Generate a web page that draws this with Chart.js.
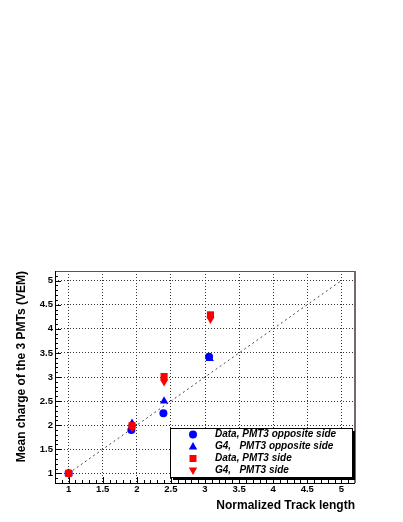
<!DOCTYPE html>
<html>
<head>
<meta charset="utf-8">
<script src="https://cdn.jsdelivr.net/npm/chart.js@4.4.0/dist/chart.umd.min.js"></script>
<style>
  html, body { margin: 0; padding: 0; background: #fff; }
  #wrap { width: 403px; height: 522px; }
</style>
</head>
<body>
<div id="wrap"><canvas id="chart"></canvas></div>
<script>
// values
const dataOppX = [1, 1.92, 2.39, 3.06];
const dataOppY = [1, 1.9, 2.25, 3.42];
const g4OppX = [1, 1.93, 2.4, 3.07];
const g4OppY = [1, 2.04, 2.5, 3.38];
const dataSideX = [1, 1.93, 2.4, 3.08];
const dataSideY = [1, 1.99, 3.01, 4.29];
const g4SideX = [1, 1.93, 2.4, 3.08];
const g4SideY = [1, 1.95, 2.9, 4.2];
const diagX = [1, 5];
const diagY = [1, 5];

const xTicks = [1, 1.5, 2, 2.5, 3, 3.5, 4, 4.5, 5];
const yTicks = [1, 1.5, 2, 2.5, 3, 3.5, 4, 4.5, 5];
const labels = ['Data, PMT3 opposite side', 'G4,   PMT3 opposite side', 'Data, PMT3 side', 'G4,   PMT3 side'];

const pts = (xs, ys) => xs.map((x, i) => ({ x: x, y: ys[i] }));

const BLUE = '#0000ff';
const RED = '#ff0000';

function marker(ctx, style, x, y, color) {
    ctx.save();
    ctx.fillStyle = color;
    ctx.beginPath();
    if (style === 'circle') {
        ctx.arc(x, y, 4, 0, Math.PI * 2);
    } else if (style === 'rect') {
        ctx.rect(x - 3.5, y - 3.5, 7, 7);
    } else if (style === 'up') {
        ctx.moveTo(x, y - 4.5); ctx.lineTo(x + 4.2, y + 3); ctx.lineTo(x - 4.2, y + 3);
    } else {
        ctx.moveTo(x, y + 4.5); ctx.lineTo(x + 4.2, y - 3); ctx.lineTo(x - 4.2, y - 3);
    }
    ctx.closePath();
    ctx.fill();
    ctx.restore();
}

const rootFrame = {
    id: 'rootFrame',
    afterDraw(chart) {
        const { ctx, chartArea: a, scales } = chart;
        const xs = scales.x, ys = scales.y;
        ctx.save();
        ctx.strokeStyle = '#000';
        ctx.lineWidth = 1;
        // minor and major ticks, pointing inward
        ctx.beginPath();
        for (let i = 8; i <= 52; i++) {
            const v = i / 10;
            const major = i % 5 === 0;
            const len = major ? 6 : 3;
            const px = Math.round(xs.getPixelForValue(v)) + 0.5;
            ctx.moveTo(px, a.bottom); ctx.lineTo(px, a.bottom - len);
            const py = Math.round(ys.getPixelForValue(v)) + 0.5;
            ctx.moveTo(a.left, py); ctx.lineTo(a.left + len, py);
        }
        ctx.stroke();
        // frame
        ctx.strokeStyle = '#555';
        ctx.beginPath();
        ctx.moveTo(a.left, a.top + 0.5); ctx.lineTo(a.right, a.top + 0.5);
        ctx.stroke();
        ctx.strokeStyle = '#7a6868';
        ctx.lineWidth = 2;
        ctx.beginPath();
        ctx.moveTo(a.right, a.top); ctx.lineTo(a.right, a.bottom);
        ctx.stroke();
        ctx.strokeStyle = '#000';
        ctx.lineWidth = 1;
        ctx.beginPath();
        ctx.moveTo(a.left + 0.5, a.top); ctx.lineTo(a.left + 0.5, a.bottom + 0.5);
        ctx.lineTo(a.right, a.bottom + 0.5);
        ctx.stroke();

        // axis titles
        ctx.fillStyle = '#000';
        ctx.font = 'bold 12px "Liberation Sans", Arial, sans-serif';
        ctx.textAlign = 'right';
        ctx.textBaseline = 'alphabetic';
        ctx.fillText('Normalized Track length', a.right, 509);
        ctx.save();
        ctx.translate(22, a.top);
        ctx.rotate(-Math.PI / 2);
        ctx.textBaseline = 'middle';
        ctx.fillText('Mean charge of the 3 PMTs (VEM)', 0, 0);
        ctx.restore();

        // legend box with shadow
        const lx = 170, ly = 428, lw = 182, lh = 49;
        ctx.fillStyle = '#000';
        ctx.fillRect(lx + 3, ly + 3, lw, lh);
        ctx.fillStyle = '#fff';
        ctx.fillRect(lx, ly, lw, lh);
        ctx.strokeRect(lx + 0.5, ly + 0.5, lw, lh);
        const styles = ['circle', 'up', 'rect', 'down'];
        const colors = [BLUE, BLUE, RED, RED];
        ctx.font = 'italic bold 10px "Liberation Sans", Arial, sans-serif';
        ctx.textAlign = 'left';
        ctx.textBaseline = 'middle';
        labels.forEach((t, i) => {
            const y = ly + 6.5 + i * 12;
            marker(ctx, styles[i], lx + 23, y, colors[i]);
            ctx.fillStyle = '#000';
            ctx.fillText(t, lx + 45, y);
        });
        ctx.restore();
    }
};

const tickFont = { family: '"Liberation Sans", Arial, sans-serif', size: 9.5, weight: 'bold' };

new Chart(document.getElementById('chart'), {
    type: 'scatter',
    data: {
        datasets: [
            {
                type: 'line', data: pts(diagX, diagY), borderColor: '#444', borderWidth: 1,
                borderDash: [2, 3], pointRadius: 0, fill: false, order: 10
            },
            { label: labels[0], data: pts(dataOppX, dataOppY), pointStyle: 'circle', pointRadius: 4, backgroundColor: BLUE, borderWidth: 0, order: 4 },
            { label: labels[1], data: pts(g4OppX, g4OppY), pointStyle: 'triangle', pointRadius: 4.8, backgroundColor: BLUE, borderWidth: 0, order: 3 },
            { label: labels[3], data: pts(g4SideX, g4SideY), pointStyle: 'triangle', rotation: 180, pointRadius: 4.8, backgroundColor: RED, borderWidth: 0, order: 2 },
            { label: labels[2], data: pts(dataSideX, dataSideY), pointStyle: 'rect', pointRadius: 5, backgroundColor: RED, borderWidth: 0, order: 1 }
        ]
    },
    options: {
        responsive: true,
        maintainAspectRatio: false,
        animation: false,
        layout: { padding: { top: 271, right: 48, left: 0, bottom: 0 } },
        plugins: { legend: { display: false }, tooltip: { enabled: false } },
        scales: {
            x: {
                type: 'linear', min: 0.8, max: 5.2,
                afterBuildTicks: (s) => { s.ticks = xTicks.map(v => ({ value: v })); },
                afterFit: (s) => { s.height = 39; },
                grid: { color: '#333', drawTicks: false },
                border: { display: false, dash: [1, 2] },
                ticks: { color: '#000', font: tickFont, padding: 1, maxRotation: 0, autoSkip: false, callback: v => String(v) }
            },
            y: {
                type: 'linear', min: 0.8, max: 5.2,
                afterBuildTicks: (s) => { s.ticks = yTicks.map(v => ({ value: v })); },
                afterFit: (s) => { s.width = 55; },
                grid: { color: '#333', drawTicks: false },
                border: { display: false, dash: [1, 2] },
                ticks: { color: '#000', font: tickFont, padding: 2, autoSkip: false, callback: v => String(v) }
            }
        }
    },
    plugins: [rootFrame]
});
</script>
</body>
</html>
